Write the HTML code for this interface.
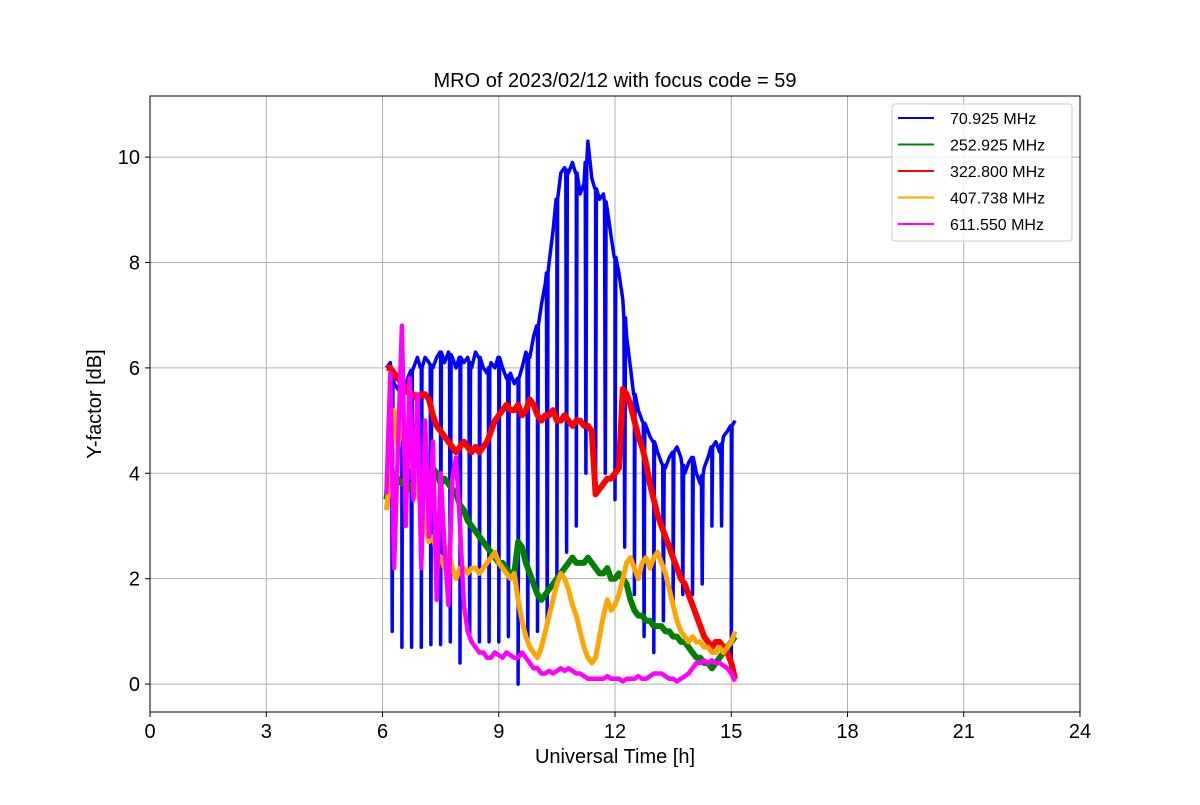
<!DOCTYPE html>
<html><head><meta charset="utf-8"><style>
body{margin:0;background:#fff}
svg{font-family:"Liberation Sans","DejaVu Sans",sans-serif}
</style></head><body>
<svg id="chart" width="1200" height="800" viewBox="0 0 1200 800">
<rect width="1200" height="800" fill="#fff"/>
<g id="grid"></g><g id="series" clip-path="url(#clip)"></g><g id="axes"></g>
<defs><clipPath id="clip"><rect x="150" y="96" width="930" height="616"/></clipPath></defs>
<text x="615" y="87" text-anchor="middle" font-size="20">MRO of 2023/02/12 with focus code = 59</text>
<text x="615" y="763" text-anchor="middle" font-size="20">Universal Time [h]</text>
<text transform="translate(101,404) rotate(-90)" text-anchor="middle" font-size="20">Y-factor [dB]</text>
<g>
<rect x="892" y="104" width="180" height="137" rx="3" fill="#fff" fill-opacity="0.8" stroke="#ccc"/>
<g id="legend"></g></g>
</svg>
<script>
const xTicks=[0,3,6,9,12,15,18,21,24];
const yTicks=[0,2,4,6,8,10];
const t0=6.1, dt=0.1;
const blueBase=[6.0,6.1,5.7,5.6,5.5,5.7,5.9,6.0,6.2,6.0,6.2,6.1,6.0,6.2,6.3,6.1,6.3,6.2,6.0,6.2,6.1,6.2,6.0,6.3,6.2,6.0,5.9,6.1,6.0,6.2,6.0,5.8,5.9,5.7,5.8,6.0,6.3,6.2,6.6,6.8,7.2,7.6,8.0,8.6,9.2,9.7,9.8,9.7,9.9,9.7,9.3,9.5,10.3,9.6,9.4,9.2,9.3,9.0,8.5,8.1,7.8,7.3,6.6,6.0,5.5,5.2,5.0,4.9,4.7,4.6,4.4,4.2,4.1,4.3,4.4,4.5,4.3,4.0,4.2,4.3,4.0,3.8,4.1,4.3,4.5,4.6,4.4,4.7,4.8,4.9,5.0];
const dipTimes=[6.25,6.5,6.75,7.0,7.25,7.5,7.75,8.0,8.25,8.5,8.75,9.0,9.25,9.5,9.75,10.0,10.25,10.5,10.75,11.0,11.25,11.5,11.75,12.0,12.25,12.5,12.75,13.0,13.25,13.5,13.75,14.0,14.25,14.5,14.75,15.0];
const dipValues=[1.0,0.7,0.7,0.7,0.75,0.75,0.8,0.4,0.9,0.8,0.8,0.8,0.9,0.0,0.8,1.0,1.1,2.0,2.5,3.0,4.0,3.7,4.0,3.5,2.6,1.7,0.9,0.6,1.2,1.5,1.7,1.7,1.9,3.0,3.0,0.5];
const green=[3.5,4.2,3.8,3.9,3.8,3.9,3.7,3.8,3.6,3.9,3.9,4.0,4.1,4.0,3.8,3.9,3.8,3.7,3.6,3.4,3.3,3.1,3.0,2.9,2.8,2.7,2.6,2.5,2.4,2.3,2.3,2.2,2.1,2.1,2.7,2.6,2.3,2.1,1.9,1.7,1.6,1.7,1.8,1.9,2.0,2.1,2.2,2.3,2.4,2.3,2.3,2.3,2.4,2.3,2.2,2.1,2.1,2.2,2.0,2.0,2.1,2.0,1.9,1.6,1.4,1.3,1.3,1.2,1.2,1.1,1.1,1.1,1.0,1.0,0.9,0.9,0.8,0.8,0.7,0.6,0.5,0.5,0.4,0.4,0.3,0.4,0.5,0.6,0.7,0.8,0.9];
const red=[6.0,6.0,5.9,5.8,5.7,5.6,5.5,5.5,5.4,5.5,5.5,5.4,5.1,4.9,4.8,4.7,4.6,4.5,4.4,4.5,4.6,4.5,4.4,4.5,4.4,4.5,4.6,4.8,5.0,5.1,5.2,5.3,5.2,5.2,5.3,5.1,5.2,5.4,5.3,5.1,5.0,5.1,5.1,5.2,5.0,5.0,5.1,5.0,4.9,5.0,5.0,4.9,4.9,4.8,3.6,3.7,3.8,3.9,3.9,4.0,4.1,5.6,5.5,5.3,5.0,4.7,4.5,4.2,3.8,3.5,3.2,3.0,2.8,2.6,2.4,2.2,2.0,1.9,1.7,1.5,1.3,1.1,0.9,0.8,0.7,0.8,0.8,0.7,0.6,0.4,0.1];
const orange=[3.3,4.0,5.2,4.5,5.0,4.6,4.3,4.0,3.6,3.4,3.0,2.7,2.8,2.5,2.4,2.2,2.6,2.2,2.0,2.2,2.2,2.1,2.2,2.2,2.1,2.2,2.3,2.4,2.5,2.3,2.2,2.1,2.0,2.1,1.6,1.2,0.9,0.7,0.6,0.5,0.7,1.0,1.3,1.6,1.9,2.1,2.0,1.8,1.5,1.3,1.0,0.7,0.5,0.4,0.5,0.9,1.3,1.6,1.4,1.5,1.7,2.0,2.3,2.4,2.2,2.0,2.3,2.4,2.2,2.4,2.5,2.3,2.1,1.8,1.5,1.2,1.0,0.9,0.8,0.9,0.8,0.8,0.7,0.7,0.6,0.6,0.7,0.6,0.7,0.8,1.0];
const magenta=[3.6,5.9,2.2,4.5,6.8,3.0,5.8,3.5,5.5,2.2,5.0,2.8,4.6,1.6,4.0,2.6,1.5,3.9,4.3,3.0,1.5,1.0,0.8,0.7,0.6,0.6,0.5,0.5,0.6,0.55,0.5,0.6,0.55,0.5,0.5,0.6,0.5,0.4,0.3,0.3,0.2,0.2,0.25,0.2,0.25,0.3,0.25,0.3,0.25,0.2,0.2,0.15,0.1,0.1,0.1,0.1,0.1,0.15,0.1,0.1,0.1,0.05,0.1,0.1,0.1,0.15,0.1,0.1,0.15,0.2,0.2,0.2,0.15,0.1,0.1,0.05,0.1,0.15,0.2,0.3,0.4,0.4,0.45,0.4,0.45,0.4,0.4,0.35,0.3,0.2,0.05];
const legendLabels=[" 70.925 MHz","252.925 MHz","322.800 MHz","407.738 MHz","611.550 MHz"];
const colors=["#0000ff","#008000","#ff0000","#ffa500","#ff00ff"];

const L=150,R=1080,T=96,B=712,xMin=0,xMax=24,yMin=-0.53,yMax=11.16;
const X=v=>L+(v-xMin)/(xMax-xMin)*(R-L);
const Y=v=>B-(v-yMin)/(yMax-yMin)*(B-T);
const NS="http://www.w3.org/2000/svg";
function mk(tag,attrs,parent){const e=document.createElementNS(NS,tag);for(const k in attrs)e.setAttribute(k,attrs[k]);parent.appendChild(e);return e;}
const grid=document.getElementById('grid'),axes=document.getElementById('axes'),series=document.getElementById('series');
xTicks.forEach(v=>{
  const g=mk('line',{x1:X(v),x2:X(v),y1:T,y2:B,stroke:'#b0b0b0','stroke-width':1},grid);
  
  
  mk('line',{x1:X(v),x2:X(v),y1:B,y2:B+5,stroke:'#000'},axes);
  const t=mk('text',{x:X(v),y:B+26,'text-anchor':'middle','font-size':20},axes);t.textContent=v;
  
  
});
yTicks.forEach(v=>{
  const g=mk('line',{x1:L,x2:R,y1:Y(v),y2:Y(v),stroke:'#b0b0b0','stroke-width':1},grid);
  
  
  mk('line',{x1:L-5,x2:L,y1:Y(v),y2:Y(v),stroke:'#000'},axes);
  const t=mk('text',{x:L-10,y:Y(v)+7,'text-anchor':'end','font-size':20},axes);t.textContent=v;
  
  
});
const frame=mk('rect',{x:L,y:T,width:R-L,height:B-T,fill:'none',stroke:'#000','stroke-width':1},axes);



function basePts(arr){return arr.map((v,i)=>[t0+i*dt,v]);}
function interp(arr,t){const f=(t-t0)/dt;const i=Math.max(0,Math.min(arr.length-2,Math.floor(f)));const r=f-i;return arr[i]*(1-r)+arr[i+1]*r;}
let bluePts=basePts(blueBase);
dipTimes.forEach((t,k)=>{const b=interp(blueBase,t);bluePts.push([t-0.02,b],[t,dipValues[k]],[t+0.02,b]);});
bluePts.sort((a,b)=>a[0]-b[0]);
const all=[bluePts,basePts(green),basePts(red),basePts(orange),basePts(magenta)];
const names=['series-70mhz','series-252mhz','series-322mhz','series-407mhz','series-611mhz'];
const widths=[3.5,6,6,5,4.5];
all.forEach((pts,i)=>{
  const d=pts.map((p,j)=>(j?'L':'M')+X(p[0]).toFixed(1)+','+Y(p[1]).toFixed(1)).join('');
  const p=mk('path',{d:d,fill:'none',stroke:colors[i],'stroke-width':widths[i],'stroke-linejoin':'round'},series);
  
  
});
const lg=document.getElementById('legend');
legendLabels.forEach((s,i)=>{
  const y=118+i*26.5;
  const g=mk('g',{},lg);
  
  
  mk('line',{x1:898,x2:934,y1:y,y2:y,stroke:colors[i],'stroke-width':2},g);
  const t=mk('text',{x:950,y:y+6,'font-size':16,'xml:space':'preserve'},g);t.textContent=s;
});
</script>
</body></html>
